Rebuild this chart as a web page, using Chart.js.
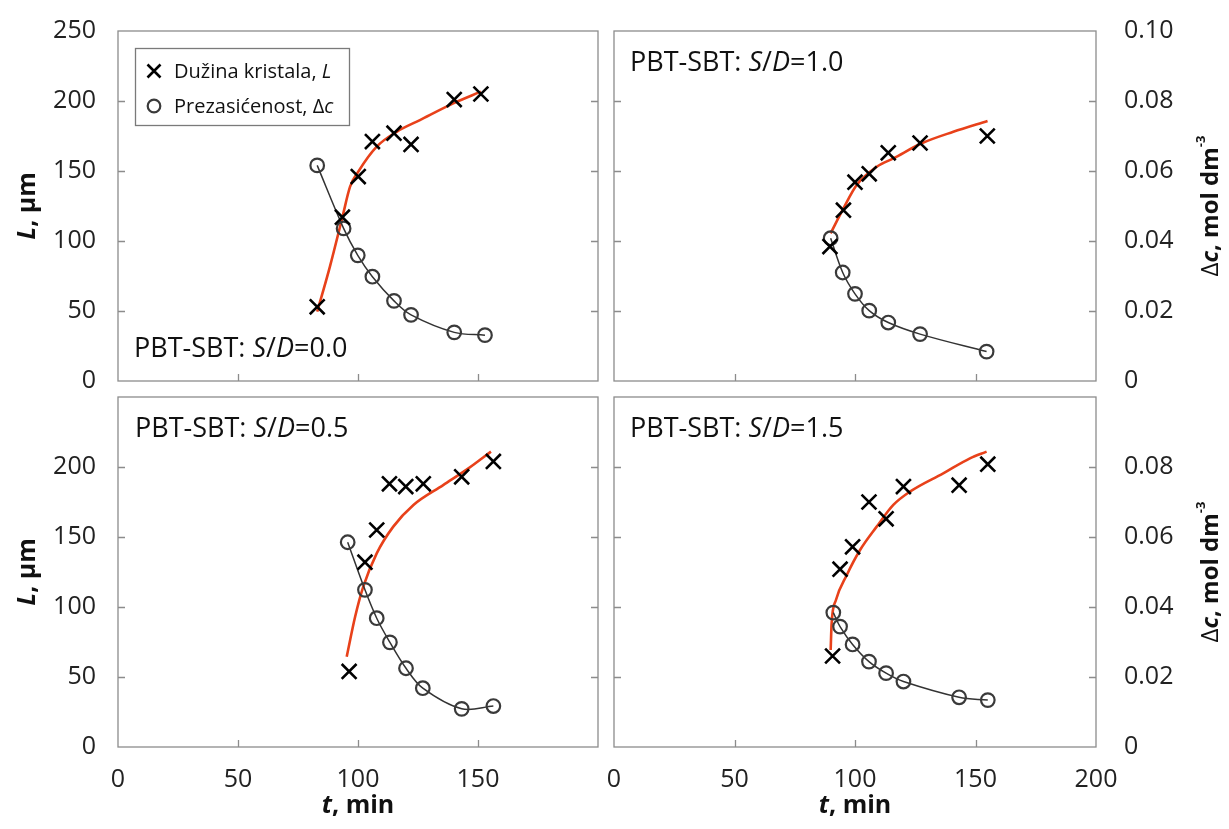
<!DOCTYPE html>
<html>
<head>
<meta charset="utf-8">
<script src="https://cdn.jsdelivr.net/npm/chart.js@4.4.1/dist/chart.umd.min.js"></script>
<style>
  html, body { margin: 0; padding: 0; background: #fff; }
  #wrap { position: relative; width: 1229px; height: 829px; }
  #wrap canvas { position: absolute; left: 0; top: 0; }
</style>
</head>
<body>
<div id="wrap">
  <canvas id="p00" width="1229" height="829"></canvas>
  <canvas id="p10" width="1229" height="829"></canvas>
  <canvas id="p05" width="1229" height="829"></canvas>
  <canvas id="p15" width="1229" height="829"></canvas>
</div>
<script>
// tick labels
const xTicks = [0, 50, 100, 150, 200];
const lTicks = [0, 50, 100, 150, 200, 250];
const cTicks = [0, 0.02, 0.04, 0.06, 0.08, 0.10];

// S/D = 0.0
const t00L = [83.0, 93.5, 100.1, 106.0, 115.0, 122.1, 140.1, 151.2];
const L00 = [53, 117, 146, 171, 177, 169, 201, 205];
const t00c = [83.0, 94.0, 99.9, 106.0, 115.0, 122.1, 140.1, 152.9];
const c00 = [0.0616, 0.0436, 0.0359, 0.0298, 0.0229, 0.0189, 0.0139, 0.0131];
const fit00t = [83.0, 88.3, 93.5, 96.7, 100.1, 107.8, 116.1, 125.8, 139.7, 151.2];
const fit00L = [49.5, 81.7, 117, 138.8, 149.5, 167.4, 178, 186.4, 198.3, 206.7];

// S/D = 1.0
const t10L = [89.6, 95.2, 100.0, 105.9, 113.8, 127.0, 154.9];
const L10 = [96, 122, 142, 148, 163, 170, 175];
const t10c = [89.9, 94.9, 100.0, 105.9, 113.8, 127.0, 154.6];
const c10 = [0.0408, 0.0310, 0.0249, 0.0201, 0.0167, 0.0134, 0.0084];
const fit10t = [89.9, 95.2, 100.7, 109.0, 115.9, 127.7, 140.8, 155.0];
const fit10L = [105.5, 123.3, 140, 153, 159, 169.8, 178, 185.7];

// S/D = 0.5
const t05L = [96.3, 102.9, 107.8, 113.1, 119.9, 127.2, 143.2, 156.4];
const L05 = [54, 132, 155, 188, 186, 188, 193, 204];
const t05c = [95.7, 102.9, 107.8, 113.3, 120.0, 127.0, 143.2, 156.4];
const c05 = [0.0585, 0.0449, 0.0368, 0.0299, 0.0225, 0.0168, 0.0109, 0.0117];
const fit05t = [95.3, 98.8, 102.2, 107.8, 114.7, 123.1, 135.5, 146.0, 155.4];
const fit05L = [64.5, 93, 114.5, 138.3, 157.4, 172.9, 187.1, 199, 211];

// S/D = 1.5
const t15L = [90.7, 93.8, 99.0, 105.8, 112.9, 120.1, 143.2, 155.1];
const L15 = [65, 127, 143, 175, 163, 186, 187, 202];
const t15c = [91.0, 93.8, 99.0, 105.8, 112.9, 120.1, 143.2, 155.1];
const c15 = [0.0384, 0.0344, 0.0293, 0.0244, 0.0211, 0.0187, 0.0142, 0.0134];
const fit15t = [89.9, 90.3, 92.1, 96.6, 102.1, 109.0, 115.9, 122.8, 136.6, 147.7, 154.6];
const fit15L = [69.3, 88.3, 105, 122.9, 140.7, 157.4, 172.9, 182.4, 195.5, 206.2, 211];

const FONT = '"Open Sans", "Noto Sans", sans-serif';
const W = 1229, H = 829;
const YW = 70, Y2W = 90, XH = 50;   // axis box sizes

function xy(ts, vs) {
  return ts.map((t, i) => ({ x: t, y: vs[i] }));
}

// draw text made of pieces with different fonts
function rich(ctx, segs, x, y, align) {
  let w = 0;
  segs.forEach(s => { ctx.font = s[1]; w += ctx.measureText(s[0]).width; });
  let cx = align === 'center' ? x - w / 2 : x;
  segs.forEach(s => {
    ctx.font = s[1];
    ctx.fillText(s[0], cx, y + (s[2] || 0));
    cx += ctx.measureText(s[0]).width;
  });
}

function cross(ctx, x, y, r) {
  ctx.beginPath();
  ctx.moveTo(x - r, y - r); ctx.lineTo(x + r, y + r);
  ctx.moveTo(x - r, y + r); ctx.lineTo(x + r, y - r);
  ctx.stroke();
}

// fixed axis size, and no extra room for overflowing labels
function fixV(size) {
  return s => { s.width = size; s.paddingTop = 0; s.paddingBottom = 0; };
}
function fixH(size) {
  return s => { s.height = size; s.paddingLeft = 0; s.paddingRight = 0; };
}

function makePanel(id, area, label, labelPos, opts) {
  const isLeft = opts.left, isBottom = opts.bottom;

  const frame = {
    id: 'frame' + id,
    beforeDatasetsDraw(chart) {
      const { ctx, chartArea: a, scales } = chart;
      ctx.save();
      ctx.strokeStyle = '#8c8c8c';
      ctx.lineWidth = 1.3;
      ctx.strokeRect(a.left, a.top, a.right - a.left, a.bottom - a.top);
      ctx.beginPath();
      scales.y.ticks.forEach(tk => {
        const p = Math.round(scales.y.getPixelForValue(tk.value)) + 0.5;
        if (p <= a.top + 2 || p >= a.bottom - 2) return;
        ctx.moveTo(a.left, p); ctx.lineTo(a.left + 7, p);
        ctx.moveTo(a.right - 7, p); ctx.lineTo(a.right, p);
      });
      scales.x.ticks.forEach(tk => {
        const p = Math.round(scales.x.getPixelForValue(tk.value)) + 0.5;
        if (p <= a.left + 2 || p >= a.right - 2) return;
        ctx.moveTo(p, a.bottom); ctx.lineTo(p, a.bottom - 7);
      });
      ctx.stroke();
      ctx.restore();
    },
    afterDraw(chart) {
      const { ctx, chartArea: a } = chart;
      ctx.save();
      ctx.fillStyle = '#111';
      ctx.textBaseline = 'alphabetic';
      const reg = '27px ' + FONT, ita = 'italic 27px ' + FONT;
      rich(ctx, [['PBT-SBT: ', reg], ['S', ita], ['/', reg], ['D', ita], ['=' + label, reg]],
        labelPos[0], labelPos[1], 'left');

      const midY = (a.top + a.bottom) / 2;
      if (isLeft) {
        ctx.save();
        ctx.translate(28, midY);
        ctx.rotate(-Math.PI / 2);
        ctx.textBaseline = 'middle';
        rich(ctx, [['L', 'italic bold 25px ' + FONT], [', \u03bcm', 'bold 25px ' + FONT]], 0, 0, 'center');
        ctx.restore();
      } else {
        ctx.save();
        ctx.translate(1211, midY);
        ctx.rotate(-Math.PI / 2);
        ctx.textBaseline = 'middle';
        rich(ctx, [['\u0394', '24px ' + FONT], ['c', 'italic bold 24px ' + FONT],
          [', mol dm', 'bold 24px ' + FONT], ['-3', 'bold 13px ' + FONT, -10]], 0, 0, 'center');
        ctx.restore();
      }
      if (isBottom) {
        rich(ctx, [['t', 'italic bold 25px ' + FONT], [', min', 'bold 25px ' + FONT]],
          (a.left + a.right) / 2, 813, 'center');
      }
      if (opts.legend) {
        ctx.strokeStyle = '#7a7a7a';
        ctx.lineWidth = 1.3;
        ctx.strokeRect(135.5, 48.5, 214, 77);
        ctx.strokeStyle = '#000';
        ctx.lineWidth = 2.6;
        cross(ctx, 154, 71, 6.5);
        ctx.strokeStyle = '#3a3a3a';
        ctx.lineWidth = 2.2;
        ctx.beginPath(); ctx.arc(154, 106, 6.3, 0, Math.PI * 2); ctx.stroke();
        ctx.fillStyle = '#111';
        rich(ctx, [['Du\u017eina kristala, ', '20px ' + FONT], ['L', 'italic 20px ' + FONT]], 174, 78, 'left');
        rich(ctx, [['Prezasi\u0107enost, \u0394', '20px ' + FONT], ['c', 'italic 20px ' + FONT]], 174, 113, 'left');
      }
      ctx.restore();
    }
  };

  const tickFont = { family: FONT, size: 25 };

  return new Chart(document.getElementById(id), {
    type: 'scatter',
    data: {
      datasets: [
        {
          data: xy(opts.tL, opts.L),
          yAxisID: 'y',
          pointStyle: 'crossRot',
          pointRadius: 10.5,
          pointBorderWidth: 2.6,
          pointBorderColor: '#000',
          showLine: false
        },
        {
          data: xy(opts.tc, opts.c),
          yAxisID: 'y2',
          pointStyle: 'circle',
          pointRadius: 6.8,
          pointBorderWidth: 2.2,
          pointBorderColor: '#3a3a3a',
          pointBackgroundColor: 'rgba(0,0,0,0)',
          showLine: true,
          borderColor: '#333',
          borderWidth: 1.5,
          tension: 0.35
        },
        {
          data: xy(opts.ft, opts.fL),
          yAxisID: 'y',
          pointRadius: 0,
          showLine: true,
          borderColor: '#e8411a',
          borderWidth: 2.6,
          cubicInterpolationMode: 'monotone'
        }
      ]
    },
    options: {
      responsive: false,
      animation: false,
      events: [],
      layout: {
        padding: {
          left: area[0] - YW,
          top: area[1],
          right: W - area[2] - Y2W,
          bottom: H - area[3] - XH
        }
      },
      plugins: { legend: { display: false }, tooltip: { enabled: false } },
      scales: {
        x: {
          type: 'linear', min: 0, max: 200,
          grid: { display: false }, border: { display: false },
          afterBuildTicks: s => { s.ticks = xTicks.map(v => ({ value: v })); },
          afterFit: fixH(XH),
          ticks: {
            display: isBottom, padding: 10, font: tickFont, color: '#222',
            maxRotation: 0, autoSkip: false,
            callback: v => (isLeft && v === 200) ? '' : String(v)
          }
        },
        y: {
          type: 'linear', position: 'left', min: 0, max: 250,
          grid: { display: false }, border: { display: false },
          afterBuildTicks: s => { s.ticks = lTicks.map(v => ({ value: v })); },
          afterFit: fixV(YW),
          ticks: {
            display: isLeft, padding: 14, font: tickFont, color: '#222', autoSkip: false,
            callback: v => (isBottom && v === 250) ? '' : String(v)
          }
        },
        y2: {
          type: 'linear', position: 'right', min: 0, max: 0.1,
          grid: { display: false }, border: { display: false },
          afterBuildTicks: s => { s.ticks = cTicks.map(v => ({ value: v })); },
          afterFit: fixV(Y2W),
          ticks: {
            display: !isLeft, padding: 20, font: tickFont, color: '#222', autoSkip: false,
            callback: v => (isBottom && v >= 0.0999) ? '' : (v === 0 ? '0' : v.toFixed(2))
          }
        }
      }
    },
    plugins: [frame]
  });
}

makePanel('p00', [118, 31, 598, 381], '0.0', [134, 357],
  { left: true, bottom: false, legend: true, tL: t00L, L: L00, tc: t00c, c: c00, ft: fit00t, fL: fit00L });
makePanel('p10', [614, 31, 1096, 381], '1.0', [630, 71],
  { left: false, bottom: false, tL: t10L, L: L10, tc: t10c, c: c10, ft: fit10t, fL: fit10L });
makePanel('p05', [118, 397, 598, 747], '0.5', [135, 437],
  { left: true, bottom: true, tL: t05L, L: L05, tc: t05c, c: c05, ft: fit05t, fL: fit05L });
makePanel('p15', [614, 397, 1096, 747], '1.5', [630, 437],
  { left: false, bottom: true, tL: t15L, L: L15, tc: t15c, c: c15, ft: fit15t, fL: fit15L });
</script>
</body>
</html>
